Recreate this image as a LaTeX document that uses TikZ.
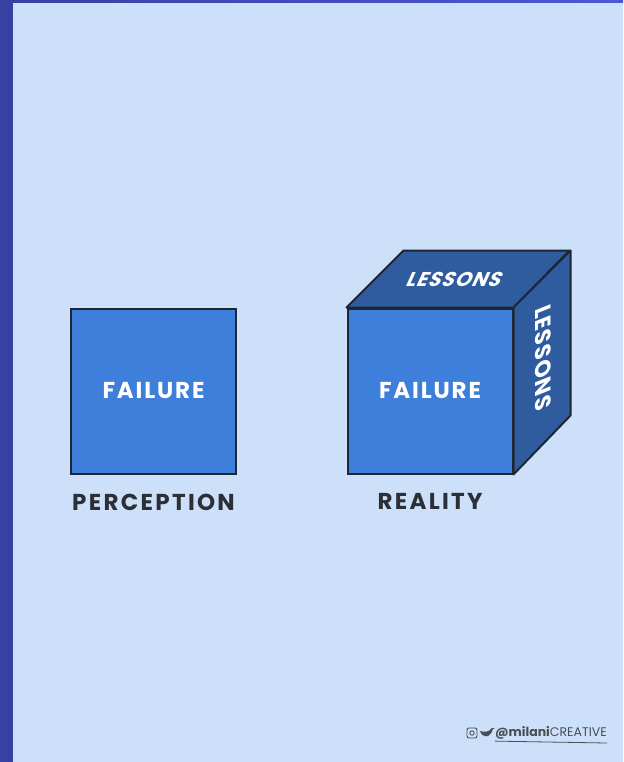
\documentclass[tikz,border=0pt]{standalone}
\usepackage{fontspec}
\setmainfont{Poppins}
\usetikzlibrary{positioning}

\definecolor{bgblue}{HTML}{CCE0FA}
\definecolor{edgeblue}{HTML}{3741A3}
\definecolor{topblue}{HTML}{4B58D5}
\definecolor{frontblue}{HTML}{3D7FDB}
\definecolor{sideblue}{HTML}{2F5C9E}
\definecolor{inkdark}{HTML}{1E2633}
\definecolor{labelgray}{HTML}{2C3036}
\definecolor{markgray}{HTML}{4A4E55}

\begin{document}
\begin{tikzpicture}[x=1pt, y=1pt,
	face/.style={draw=inkdark, line width=2pt, fill=frontblue, minimum size=165pt, inner sep=0pt,
		text=white, font=\addfontfeatures{LetterSpace=8}\bfseries\fontsize{23}{25}\selectfont},
	side/.style={draw=inkdark, line width=2pt, fill=sideblue, line join=round},
	caption/.style={text=labelgray, inner sep=0pt,
		font=\addfontfeatures{LetterSpace=10}\bfseries\fontsize{23}{25}\selectfont},
	lesson/.style={text=white, inner sep=0pt,
		font=\addfontfeatures{LetterSpace=5}\bfseries\fontsize{20}{22}\selectfont}]

% Fondo
\fill[bgblue] (0,0) rectangle (623,-762);
\fill[edgeblue] (0,0) rectangle (13,-762);
\shade[left color=edgeblue, right color=topblue] (0,0) rectangle (623,-3);
\useasboundingbox (0,0) rectangle (623,-762);

% Percepcion
\node[face] (perc) at (153.5,-391) {FAILURE};
\node[caption, below=19pt of perc] (perclabel) {PERCEPTION};

% Realidad
\node[face] (real) at (430,-391) {FAILURE};
\draw[side] (real.north west) -- ++(57,57) -- ++(166,0) -- (real.north east) -- cycle;
\draw[side] (real.north east) -- ++(57,57) -- ++(0,-165) -- (real.south east) -- cycle;
\node[face, fill=none] (realfront) at (real) {};
\node[lesson, xslant=0.45] (toplesson) at (455,-279) {LESSONS};
\node[lesson, rotate=-90, xslant=-0.4, font=\addfontfeatures{LetterSpace=5}\bfseries\fontsize{22}{24}\selectfont]
	(sidelesson) at (543,-358) {LESSONS};
\node[caption, below=19pt of real] (reallabel) {REALITY};

% Firma
\draw[markgray, line width=0.9pt, rounded corners=2pt] (467,-738) rectangle (477,-728);
\draw[markgray, line width=0.9pt] (472,-733) circle (2.2pt);
\fill[markgray] (480,-731) .. controls (482,-738) and (490,-739) .. (493,-729)
	-- (495,-728) -- (492,-728) .. controls (488,-733) and (484,-732) .. (480,-731) -- cycle;
\node[anchor=west, inner sep=0pt, text=markgray, font=\fontsize{12.5}{13}\selectfont] (mark) at (495,-733)
	{\textbf{@milani}CREATIVE};
\draw[markgray, line width=0.8pt] (mark.south west) ++(0,-1.5) -- (mark.south east |- 0,-743);

\end{tikzpicture}
\end{document}
